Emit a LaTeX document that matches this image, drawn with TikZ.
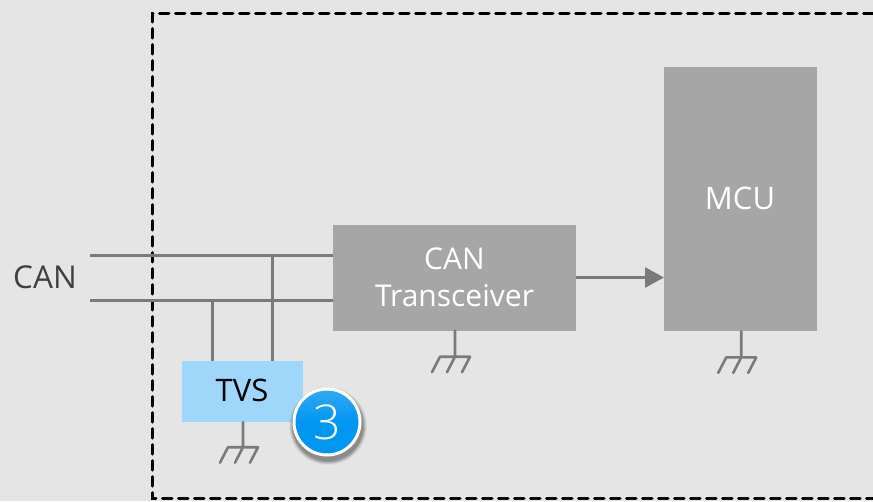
\documentclass[tikz,border=0pt]{standalone}
\usepackage{fontspec}
\setmainfont{Open Sans}
\newfontfamily\lightface{Open Sans Light}
\usetikzlibrary{arrows.meta}
\definecolor{bgc}{HTML}{E5E5E5}
\definecolor{boxc}{HTML}{A6A6A6}
\definecolor{wirec}{HTML}{7A7A7A}
\definecolor{tvsc}{HTML}{9FD7FB}
\definecolor{txtc}{HTML}{404040}
\definecolor{bluet}{HTML}{35A8F5}
\definecolor{blueb}{HTML}{0096F2}
\tikzset{
  graybox/.style={fill=boxc,draw=none,inner sep=0pt,text=white,align=center,font=\fontsize{30}{38}\selectfont},
  wire/.style={draw=wirec,line width=2.8pt},
  gnd/.style={draw=wirec,line width=2.6pt,line cap=round,line join=round},
  sig/.style={draw=wirec,line width=2.8pt,-{Triangle[length=19pt,width=20pt]}},
  frameline/.style={draw=black,line width=3pt,dash pattern=on 9.5pt off 6.5pt,line cap=round},
}
\newcommand{\groundat}[2]{%
  \draw[gnd] (#1) ++(0.5,0) -- ++(0,#2) coordinate (g)
    (g) ++(-15,0) -- ++(30,0)
    (g) ++(-15,0) -- ++(-8,15.5)
    (g) -- ++(-8,15.5)
    (g) ++(15,0) -- ++(-8,15.5);}
\begin{document}
\begin{tikzpicture}[x=1pt,y=-1pt]
\useasboundingbox (0,0) rectangle (873,501);
\fill[bgc] (0,0) rectangle (873,501);
\draw[frameline] (873,13.5) -- (152,13.5) -- (152,498) -- (873,498);
\node[graybox,minimum width=243pt,minimum height=106pt] (trx) at (454.5,277.5) {CAN\\[-1pt]Transceiver};
\node[graybox,minimum width=153pt,minimum height=264pt,anchor=north west] (mcu) at (664,67) {};
\node[text=white,font=\fontsize{31}{38}\selectfont] (mculabel) at (740,198) {MCU};
\node[fill=tvsc,inner sep=0pt,minimum width=121pt,minimum height=61pt] (tvs) at (242.5,391.5) {};
\node[text=black,font=\fontsize{31}{36}\selectfont] (tvslabel) at (242,390) {TVS};
\node[text=txtc,font=\fontsize{31.5}{36}\selectfont,inner sep=0pt] (can) at (45,277) {CAN};
\coordinate (c1) at (90,255.5);
\coordinate (c2) at (90,300.5);
\coordinate (j1) at (272.5,255.5);
\coordinate (j2) at (212.5,300.5);
\draw[wire] (c1) -- (c1 -| trx.west);
\draw[wire] (c2) -- (c2 -| trx.west);
\draw[wire] (j1) -- (j1 |- tvs.north);
\draw[wire] (j2) -- (j2 |- tvs.north);
\draw[sig] (trx.east) -- (mcu.west |- trx.east);
\groundat{trx.south}{26}
\groundat{mcu.south}{26}
\groundat{tvs.south}{25}
% badge shadow
\foreach \r/\o in {39/.03,38.5/.03,38/.04,37.5/.05,37/.06,36.5/.07,36/.08,35/.1}
  \fill[black,opacity=\o] (328,426) circle (\r pt);
\node[circle,draw=white,line width=3pt,minimum size=66pt,inner sep=0pt,top color=bluet,bottom color=blueb,middle color=blueb,text=white,font=\lightface\fontsize{48}{52}\selectfont] (badge) at (327,422) {3};
\end{tikzpicture}
\end{document}
